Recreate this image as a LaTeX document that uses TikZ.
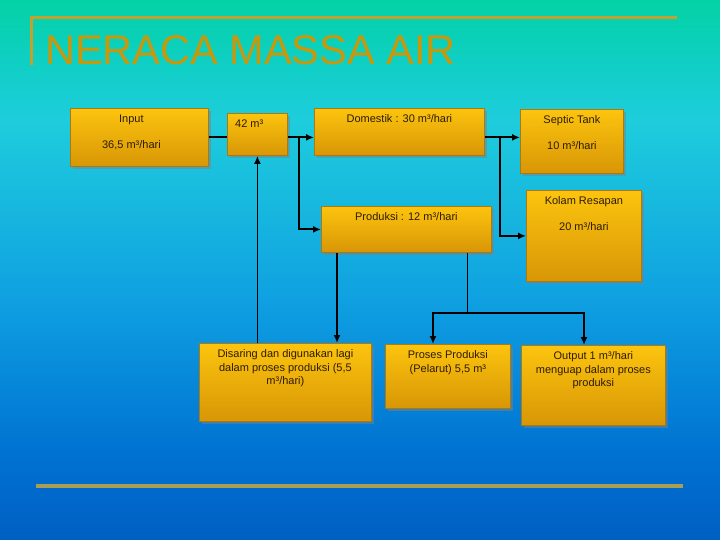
\documentclass[tikz,border=0pt]{standalone}
\usepackage{fontspec}
\setmainfont{Liberation Sans}
\usepackage{xcolor}
\usetikzlibrary{positioning,arrows.meta,shadows}

\definecolor{goldtop}{RGB}{252,196,14}
\definecolor{goldbot}{RGB}{216,150,6}
\definecolor{goldedge}{RGB}{170,122,18}
\definecolor{inkbrown}{RGB}{45,28,0}
\definecolor{titlegold}{RGB}{200,152,12}
\definecolor{framegold}{RGB}{196,160,45}
\definecolor{rulegold}{RGB}{168,158,84}
\definecolor{bgA}{RGB}{3,210,165}
\definecolor{bgAB}{RGB}{15,207,195}
\definecolor{bgB}{RGB}{30,205,220}
\definecolor{bgC}{RGB}{15,160,225}
\definecolor{bgD}{RGB}{0,115,210}
\definecolor{bgE}{RGB}{0,95,195}
\pgfdeclareverticalshading{slidebg}{100bp}{color(0bp)=(bgE); color(25bp)=(bgE);
  color(33.3bp)=(bgD); color(47.2bp)=(bgC); color(63.9bp)=(bgB);
  color(69.4bp)=(bgAB); color(75bp)=(bgA); color(100bp)=(bgA)}

\begin{document}
\begin{tikzpicture}[
    x=1pt, y=-1pt,
    box/.style={
        draw=goldedge,
        line width=0.8pt,
        top color=goldtop,
        bottom color=goldbot,
        drop shadow={shadow xshift=2.5pt, shadow yshift=-2.5pt, opacity=0.5},
        rectangle,
        anchor=north west,
        inner sep=0pt
    },
    txt/.style={
        font=\fontsize{11}{13.5}\selectfont,
        text=inkbrown,
        align=center,
        inner sep=0pt,
        anchor=north,
        yshift=-6.5pt
    },
    link/.style={line width=1.8pt},
    arrow/.style={-{Latex[length=8pt,width=7pt]}, line width=1.8pt}
]

% background and frame
\useasboundingbox (0,0) rectangle (720,540);
\shade[shading=slidebg] (0,0) rectangle (720,540);
\draw[framegold, line width=3pt] (31,65) -- (31,18) -- (677,18);
\node[anchor=west, inner sep=0pt, text=titlegold,
      font=\fontsize{41.5}{44}\selectfont] (title) at (45,50) {NERACA MASSA AIR};
\draw[rulegold, line width=3.5pt] (36,486) -- (683,486);

% boxes
\node[box, minimum width=138pt, minimum height=58pt,
      label={[txt, xshift=-8pt]north:{Input\\[13pt]36,5 m³/hari}}] (input) at (70,108) {};
\node[box, minimum width=60pt, minimum height=42pt,
      label={[txt, anchor=north west, xshift=8pt]north west:42 m³}] (tank) at (227,113) {};
\node[box, minimum width=170pt, minimum height=47pt,
      label={[txt]north:Domestik : 30 m³/hari}] (domestik) at (314,108) {};
\node[box, minimum width=103pt, minimum height=64pt,
      label={[txt]north:{Septic Tank\\[12pt]10 m³/hari}}] (septic) at (520,109) {};
\node[box, minimum width=115pt, minimum height=91pt,
      label={[txt]north:{Kolam Resapan\\[12pt]20 m³/hari}}] (kolam) at (526,190) {};
\node[box, minimum width=170pt, minimum height=46pt,
      label={[txt]north:Produksi : 12 m³/hari}] (produksi) at (321,206) {};
\node[box, minimum width=172pt, minimum height=78pt,
      label={[txt]north:{Disaring dan digunakan lagi\\dalam proses produksi (5,5\\m³/hari)}}] (saring) at (199,343) {};
\node[box, minimum width=125pt, minimum height=64pt,
      label={[txt]north:{Proses Produksi\\(Pelarut) 5,5 m³}}] (proses) at (385,344) {};
\node[box, minimum width=144pt, minimum height=80pt,
      label={[txt]north:{Output 1 m³/hari\\menguap dalam proses\\produksi}}] (output) at (521,345) {};

% connectors
\draw[link] (input.east) -- (input.east -| tank.west);
\draw[arrow] (input.east -| tank.east) -- (input.east -| domestik.west);
\draw[arrow] (input.east -| tank.east) ++(11,0) |- (produksi.west);
\draw[arrow] (input.east -| domestik.east) -- (input.east -| septic.west);
\draw[arrow] (input.east -| domestik.east) ++(15,0) |- (kolam.west);
\draw[arrow] (tank.south |- saring.north) -- (tank.south);
\draw[arrow] ([xshift=16pt]produksi.south west) -- ([xshift=16pt]produksi.south west |- saring.north);

\coordinate (split) at ([xshift=-24pt]produksi.south east |- 0,313);
\draw[line width=1.3pt] ([xshift=-24pt]produksi.south east) -- (split);
\draw[arrow] (split) -| ([xshift=48pt]proses.north west);
\draw[arrow] (split) -| ([xshift=63pt]output.north west);

\end{tikzpicture}
\end{document}
